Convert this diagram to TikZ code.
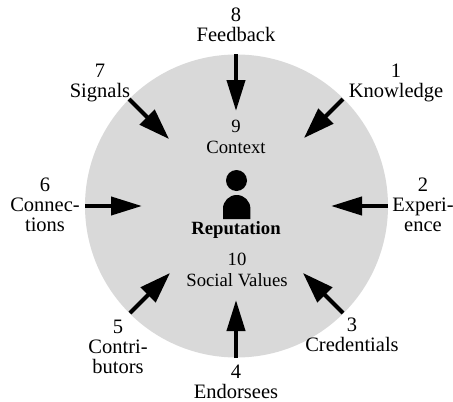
\documentclass[tikz,border=0pt]{standalone}
\usepackage{fontspec}
\setmainfont{Liberation Serif}
\usetikzlibrary{arrows.meta}
\tikzset{
  disc/.style={fill=black!15,draw=none},
  lab/.style={align=center,inner sep=0pt,font=\fontsize{20.5}{20.3}\selectfont},
  inlab/.style={align=center,inner sep=0pt,font=\fontsize{18.7}{20.3}\selectfont},
  boldlab/.style={inner sep=0pt,font=\fontsize{18.7}{20}\selectfont\bfseries},
  inarrow/.style={line width=4pt,-{Triangle[length=31pt,width=18pt]}},
  diagarrow/.style={line width=4pt,-{Triangle[length=31pt,width=20.5pt]}},
  figure part/.style={fill=black,draw=none}
}
\begin{document}
\begin{tikzpicture}[x=1pt,y=-1pt]
\useasboundingbox (0,0) rectangle (453,402);
\fill[disc] (236.5,206) circle (151.5);
\node[lab] (n8) at (236,25) {8\\Feedback};
\node[lab] (n1) at (396,83) {1\\Knowledge};
\node[lab] (n2) at (423,205) {2\\Experi-\\ence};
\node[lab] (n3) at (352,335) {3\\Credentials};
\node[lab] (n4) at (236,382) {4\\Endorsees};
\node[lab] (n5) at (118,347) {5\\Contri-\\butors};
\node[lab] (n6) at (45,205) {6\\Connec-\\tions};
\node[lab] (n7) at (100,83) {7\\Signals};
\node[inlab] (n9) at (236,137) {9\\Context};
\node[boldlab] (rep) at (236,230) {Reputation};
\node[inlab] (n10) at (237,270) {10\\Social Values};
\coordinate (s8) at (236,54);   \coordinate (e8) at (236,111);
\coordinate (s1) at (343,99);   \coordinate (e1) at (304,138);
\coordinate (s2) at (388,206);  \coordinate (e2) at (331,206);
\coordinate (s3) at (343,313);  \coordinate (e3) at (303,273);
\coordinate (s4) at (236,358);  \coordinate (e4) at (236,300);
\coordinate (s5) at (130,313);  \coordinate (e5) at (170,273);
\coordinate (s6) at (85,206);   \coordinate (e6) at (142,206);
\coordinate (s7) at (129,99);   \coordinate (e7) at (169,139);
\foreach \i in {2,4,6,8} \draw[inarrow] (s\i) -- (e\i);
\foreach \i in {1,3,5,7} \draw[diagarrow] (s\i) -- (e\i);
\fill[figure part] (236.5,180.5) circle (10.5);
\fill[figure part] (223,219) -- (223,208.7) arc[start angle=180,end angle=360,radius=13.7] -- (250.4,219) -- cycle;
\end{tikzpicture}
\end{document}
